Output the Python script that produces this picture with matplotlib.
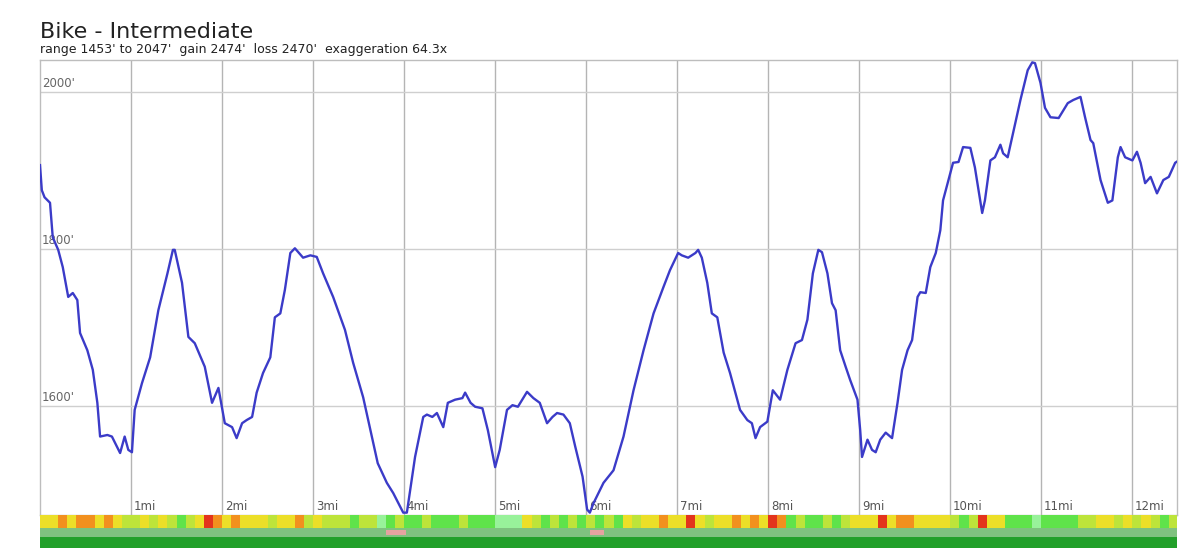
import matplotlib
matplotlib.use("Agg")
import matplotlib.pyplot as plt

# elevation profile (distance in miles, elevation in feet)
dist_mi = [0.00, 0.02, 0.05, 0.11, 0.14, 0.20, 0.25, 0.31, 0.36, 0.41,
           0.44, 0.52, 0.58, 0.63, 0.66, 0.74, 0.79, 0.88, 0.93, 0.97,
           1.01, 1.04, 1.12, 1.21, 1.30, 1.40, 1.46, 1.48, 1.56, 1.63,
           1.70, 1.81, 1.89, 1.96, 2.03, 2.11, 2.16, 2.22, 2.27, 2.33,
           2.38, 2.45, 2.53, 2.58, 2.64, 2.69, 2.75, 2.80, 2.89, 2.97,
           3.04, 3.11, 3.22, 3.35, 3.44, 3.55, 3.63, 3.71, 3.81, 3.88,
           3.99, 4.03, 4.12, 4.21, 4.25, 4.31, 4.36, 4.43, 4.48, 4.56,
           4.64, 4.67, 4.73, 4.78, 4.86, 4.92, 5.00, 5.05, 5.13, 5.19,
           5.25, 5.35, 5.42, 5.49, 5.57, 5.63, 5.68, 5.75, 5.82, 5.88,
           5.96, 6.01, 6.04, 6.08, 6.19, 6.30, 6.41, 6.52, 6.63, 6.74,
           6.85, 6.92, 7.01, 7.05, 7.12, 7.20, 7.23, 7.27, 7.33, 7.38,
           7.44, 7.51, 7.58, 7.69, 7.77, 7.82, 7.86, 7.91, 7.99, 8.05,
           8.13, 8.21, 8.30, 8.37, 8.43, 8.49, 8.55, 8.59, 8.65, 8.70,
           8.74, 8.79, 8.85, 8.90, 8.98, 9.01, 9.03, 9.09, 9.14, 9.18,
           9.23, 9.29, 9.36, 9.42, 9.47, 9.53, 9.58, 9.64, 9.67, 9.73,
           9.78, 9.84, 9.89, 9.92, 10.03, 10.09, 10.14, 10.22, 10.27, 10.35,
           10.38, 10.44, 10.49, 10.55, 10.58, 10.63, 10.68, 10.77, 10.85, 10.90,
           10.93, 10.99, 11.04, 11.10, 11.19, 11.29, 11.35, 11.43, 11.48, 11.54,
           11.57, 11.65, 11.73, 11.78, 11.84, 11.87, 11.92, 12.00, 12.05, 12.09,
           12.14, 12.20, 12.27, 12.34, 12.40, 12.47, 12.51]
elev_ft = [1907, 1875, 1866, 1859, 1815, 1799, 1777, 1739, 1744, 1735,
           1693, 1671, 1646, 1604, 1561, 1563, 1561, 1540, 1561, 1544,
           1541, 1595, 1629, 1662, 1722, 1769, 1799, 1799, 1757, 1688,
           1680, 1650, 1604, 1623, 1578, 1573, 1559, 1578, 1582, 1586,
           1617, 1642, 1662, 1713, 1718, 1748, 1795, 1801, 1789, 1792,
           1790, 1769, 1739, 1697, 1655, 1611, 1569, 1527, 1502, 1489,
           1464, 1464, 1535, 1586, 1589, 1586, 1591, 1573, 1604, 1608,
           1610, 1617, 1604, 1599, 1597, 1569, 1522, 1544, 1595, 1601,
           1599, 1618, 1610, 1604, 1578, 1586, 1591, 1589, 1578, 1548,
           1510, 1468, 1464, 1476, 1502, 1518, 1561, 1620, 1671, 1718,
           1752, 1773, 1795, 1792, 1789, 1795, 1799, 1789, 1757, 1718,
           1713, 1668, 1642, 1595, 1582, 1578, 1559, 1573, 1580, 1620,
           1608, 1646, 1680, 1684, 1710, 1769, 1799, 1796, 1769, 1731,
           1722, 1671, 1650, 1633, 1608, 1569, 1535, 1557, 1544, 1541,
           1557, 1566, 1559, 1604, 1646, 1671, 1684, 1739, 1745, 1744,
           1777, 1795, 1824, 1862, 1910, 1911, 1930, 1929, 1904, 1846,
           1862, 1913, 1917, 1933, 1922, 1917, 1943, 1990, 2028, 2038,
           2037, 2012, 1980, 1968, 1967, 1986, 1990, 1994, 1968, 1939,
           1935, 1888, 1859, 1862, 1917, 1930, 1917, 1913, 1924, 1910,
           1884, 1892, 1871, 1888, 1892, 1910, 1913]

mile_ticks = list(range(1, 13))
elev_ticks = [1600, 1800, 2000]

# colour strip under the profile, one code per 0.1 mile
strip_step = 0.1
strip_codes = ("YYOYOOYOYL" "LYLYLGLYRO" "YOYYYLYYOL" "YLLLGLLPGL"
               "GGLGGGLGGG" "PPPYLGLGLG" "LGLGYLYYOY" "YRYLYYOYOY"
               "ROGLGGLGLY" "YYRYOOYYYY" "LGLRYYGGGP" "GGGGLLYYLY"
               "LYLGL")
code_colors = {'R': '#e3341c', 'O': '#f2901e', 'Y': '#ecdf28',
               'L': '#bde43a', 'G': '#5fe34a', 'P': '#98f29a'}
# pink patches in the middle strip (start, end in miles)
pink_spans = [(3.80, 4.02), (6.04, 6.20)]

title = "Bike - Intermediate"
subtitle = "range 1453' to 2047'  gain 2474'  loss 2470'  exaggeration 64.3x"

W, H = 1180, 550
fig = plt.figure(figsize=(W / 100, H / 100), dpi=100)
fig.patch.set_facecolor('white')

ax = fig.add_axes([40 / W, 35 / H, 1137 / W, 455 / H])
x_max = 12.49
y_min, y_max = 1461, 2041
ax.set_xlim(0, x_max)
ax.set_ylim(y_min, y_max)

for m in mile_ticks:
    ax.axvline(m, color='#b4b4b4', linewidth=1.0, zorder=1)
    ax.text(m + 0.03, y_min + 3, f"{m}mi", fontsize=8.5, color='#555555',
            ha='left', va='bottom', zorder=2)
for e in elev_ticks:
    ax.axhline(e, color='#cfcfcf', linewidth=1.0, zorder=1)
    ax.text(0.02, e + 3, f"{e}'", fontsize=8.5, color='#666666',
            ha='left', va='bottom', zorder=2)

ax.plot(dist_mi, elev_ft, color='#3b3bc8', linewidth=1.7, zorder=3,
        solid_joinstyle='round')

ax.set_xticks([])
ax.set_yticks([])
for s in ax.spines.values():
    s.set_color('#bdbdbd')
    s.set_linewidth(1.0)

# strips under the chart
sax = fig.add_axes([40 / W, 2 / H, 1137 / W, 33 / H])
sax.set_xlim(0, x_max)
sax.set_ylim(0, 33)
sax.axis('off')

segs = [(i * strip_step, strip_step) for i in range(len(strip_codes))]
sax.broken_barh(segs, (20, 13), facecolors=[code_colors[c] for c in strip_codes],
                edgecolor='none')
sax.broken_barh([(0, x_max)], (11, 9), facecolors='#7fc27f', edgecolor='none')
sax.broken_barh([(a, b - a) for a, b in pink_spans], (13, 5),
                facecolors='#e5a3a0', edgecolor='none')
sax.broken_barh([(0, x_max)], (0, 11), facecolors='#22a02a', edgecolor='none')

fig.text(40 / W, 1 - 38 / H, title, fontsize=16, color='#222222',
         ha='left', va='baseline')
fig.text(40 / W, 1 - 53 / H, subtitle, fontsize=9, color='#222222',
         ha='left', va='baseline')

fig.savefig('out.png', dpi=100, facecolor='white')
